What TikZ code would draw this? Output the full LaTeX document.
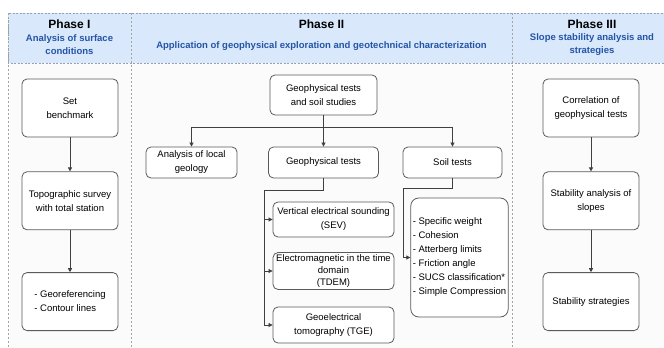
\documentclass[tikz,border=0pt]{standalone}
\usepackage{fontspec}
\setmainfont{Liberation Sans}
\usetikzlibrary{arrows.meta,positioning}
\definecolor{HeadBlue}{RGB}{218,232,252}
\definecolor{HeadLine}{RGB}{150,160,178}
\definecolor{SubBlue}{RGB}{35,85,165}
\definecolor{BoxLine}{RGB}{90,90,90}
\definecolor{LaneLine}{RGB}{165,165,165}

\begin{document}
\begin{tikzpicture}[
    x=1pt, y=-1pt,
    node distance=34pt,
    box/.style={rectangle, draw=BoxLine, rounded corners=5pt, fill=white,
                line width=0.8pt, minimum width=96pt, minimum height=58pt,
                align=center, inner sep=2pt, font=\fontsize{9.5}{14}\selectfont},
    smallbox/.style={box, minimum height=31pt},
    title/.style={font=\bfseries\fontsize{12}{14}\selectfont},
    subtitle/.style={text=SubBlue, align=center, font=\bfseries\fontsize{9.5}{13}\selectfont},
    lane/.style={draw=LaneLine, dash pattern=on 2pt off 2pt, line width=0.6pt},
    arrow/.style={-{Triangle[length=4pt,width=4pt]}, draw=black!75, line width=0.7pt},
    link/.style={draw=black!75, line width=0.7pt}
]
\useasboundingbox (0,0) rectangle (664,348);

% swimlanes
\fill[black!1.5] (8,63) rectangle (672,348);
\filldraw[fill=HeadBlue, draw=HeadLine, dash pattern=on 2pt off 1.5pt, line width=0.6pt]
    (8,13) rectangle (672,63);
\draw[lane] (8,13) -- (8,348);
\draw[lane] (131,13) -- (131,348);
\draw[lane] (512,13) -- (512,348);

% headers
\node[title] (ph1) at (69.5,24) {Phase I};
\node[subtitle] (ph1sub) at (69.5,45) {Analysis of surface\\conditions};
\node[title] (ph2) at (321.5,24) {Phase II};
\node[subtitle] (ph2sub) at (321.5,46) {Application of geophysical exploration and geotechnical characterization};
\node[title] (ph3) at (592,24) {Phase III};
\node[subtitle] (ph3sub) at (592,45) {Slope stability analysis and\\strategies};

% Phase I
\node[box] (bench) at (70,108) {Set\\benchmark};
\node[box, below=of bench] (survey) {Topographic survey\\with total station};
\node[box, below=42pt of survey, align=left] (georef) {- Georeferencing\\- Contour lines};

% Phase II
\node[box, minimum width=107pt, minimum height=40pt] (studies) at (323.5,95) {Geophysical tests\\and soil studies};
\node[smallbox, minimum width=91pt] (geology) at (191.5,162.5) {Analysis of local\\geology};
\node[smallbox, minimum width=110pt] (geotests) at (323.5,162.5) {Geophysical tests};
\node[smallbox, minimum width=99pt] (soiltests) at (452.5,162.5) {Soil tests};

\node[box, minimum width=121pt, minimum height=35pt] (sev) at (333.5,219.5) {Vertical electrical sounding\\(SEV)};
\node[box, minimum width=121pt, minimum height=36pt, font=\fontsize{9.5}{12}\selectfont] (tdem) at (333.5,271) {Electromagnetic in the time\\domain\\(TDEM)};
\node[box, minimum width=121pt, minimum height=36pt] (tge) at (333.5,325) {Geoelectrical\\tomography (TGE)};

\node[box, minimum width=97pt, minimum height=119pt, rounded corners=8pt, align=left] (soillist) at (459.5,257.5)
    {- Specific weight\\- Cohesion\\- Atterberg limits\\- Friction angle\\- SUCS classification*\\- Simple Compression};

% Phase III
\node[box] (corr) at (591,108) {Correlation of\\geophysical tests};
\node[box, below=of corr] (stab) {Stability analysis of\\slopes};
\node[box, below=42pt of stab] (strat) {Stability strategies};

% connectors
\draw[arrow] (bench) -- (survey);
\draw[arrow] (survey) -- (georef);
\draw[arrow] (corr) -- (stab);
\draw[arrow] (stab) -- (strat);

\coordinate (split) at (323.5,127);
\draw[link] (studies.south) -- (split);
\draw[arrow] (split) -| (geology.north);
\draw[arrow] (split) -- (geotests.north);
\draw[arrow] (split) -| (soiltests.north);

\coordinate (gbus) at (264,190);
\draw[link] (geotests.south) |- (gbus);
\draw[arrow] (gbus |- sev.west) -- (sev.west);
\draw[arrow] (gbus |- tdem.west) -- (tdem.west);
\draw[arrow] (gbus) |- (tge.west);

\coordinate (sbus) at (403,188);
\draw[arrow] (soiltests.south) |- (sbus) |- (soillist.west);

\end{tikzpicture}
\end{document}
